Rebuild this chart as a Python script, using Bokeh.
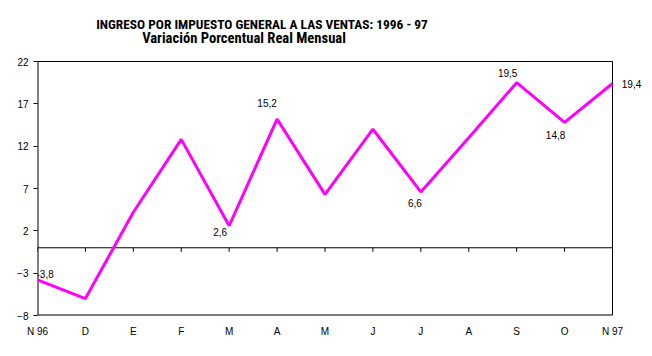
from bokeh.plotting import figure
from bokeh.models import Range1d, FixedTicker, ColumnDataSource
from bokeh.core.properties import value
from bokeh.embed import file_html
from bokeh.resources import INLINE

# ---- data ----
categories = ["N 96", "D", "E", "F", "M", "A", "M", "J", "J", "A", "S", "O", "N 97"]
values = [-3.8, -6.0, 4.2, 12.8, 2.6, 15.2, 6.3, 14.0, 6.6, 13.0, 19.5, 14.8, 19.4]
y_ticks = [-8, -3, 2, 7, 12, 17, 22]
labeled_idx = [0, 4, 5, 8, 10, 11, 12]
title_line1 = "INGRESO POR IMPUESTO GENERAL A LAS VENTAS: 1996 - 97"
title_line2 = "Variación Porcentual Real Mensual"

xs = list(range(len(categories)))
x_lo, x_hi = xs[0], xs[-1]
y_lo, y_hi = y_ticks[0], y_ticks[-1]

# frame geometry (pixels): plot box 37..612 x 61..315 on a 652x356 canvas
box_l, box_r, box_t, box_b = 37, 612, 61, 315
W, H = 652, 356
px_x = (box_r - box_l) / (x_hi - x_lo)
px_y = (box_b - box_t) / (y_hi - y_lo)
x_end = x_hi + (W - box_r) / px_x
y_end = y_hi + box_t / px_y

p = figure(width=W, height=H, output_backend="svg", toolbar_location=None, title=None,
           x_range=Range1d(x_lo, x_end), y_range=Range1d(y_lo, y_end),
           min_border_left=box_l, min_border_right=0, min_border_top=0,
           min_border_bottom=H - box_b)
p.background_fill_color = "white"
p.border_fill_color = "white"
p.outline_line_color = None
p.xgrid.visible = False
p.ygrid.visible = False

font = "Liberation Sans"

# y axis (ticks + labels only; border drawn separately)
p.yaxis.ticker = FixedTicker(ticks=y_ticks)
p.yaxis.major_tick_out = 4
p.yaxis.major_tick_in = 0
p.yaxis.minor_tick_out = 0
p.yaxis.minor_tick_in = 0
p.yaxis.major_label_standoff = 5
p.yaxis.axis_line_color = None
p.yaxis.major_tick_line_color = "black"
p.yaxis.major_label_text_font = font
p.yaxis.major_label_text_font_size = "10px"
p.yaxis.major_label_text_color = "black"

# x axis (labels only at bottom)
p.xaxis.ticker = FixedTicker(ticks=xs)
p.xaxis.major_label_overrides = {i: c for i, c in zip(xs, categories)}
p.xaxis.major_tick_out = 0
p.xaxis.major_tick_in = 0
p.xaxis.minor_tick_out = 0
p.xaxis.minor_tick_in = 0
p.xaxis.axis_line_color = None
p.xaxis.major_label_standoff = 10
p.xaxis.major_label_text_font = font
p.xaxis.major_label_text_font_size = "10px"
p.xaxis.major_label_text_color = "black"

# plot box border
p.segment(x0=[x_lo], y0=[y_hi], x1=[x_hi], y1=[y_hi], line_color="black", line_width=1)
p.segment(x0=[x_lo], y0=[y_lo], x1=[x_lo], y1=[y_hi], line_color="black", line_width=2)
p.segment(x0=[x_hi], y0=[y_lo], x1=[x_hi], y1=[y_hi], line_color="black", line_width=1)
p.segment(x0=[x_lo], y0=[y_lo], x1=[x_hi], y1=[y_lo], line_color="black", line_width=2)

# zero line with downward category ticks
p.segment(x0=[x_lo], y0=[0], x1=[x_hi], y1=[0], line_color="black", line_width=1)
p.segment(x0=xs, y0=[0] * len(xs), x1=xs, y1=[-4 / px_y] * len(xs),
          line_color="black", line_width=1)

# series line
src = ColumnDataSource(dict(x=xs, y=values))
p.line("x", "y", source=src, line_color="#FF00FF", line_width=3)

# data labels (screen offsets, positive = down)
dx = {0: -1, 4: -9, 5: -10, 8: -6, 10: -9, 11: -9, 12: 19}
dy = {0: -6, 4: 6, 5: -16, 8: 11, 10: -10, 11: 13, 12: 0}
align = {0: "left"}
lab = ColumnDataSource(dict(
    x=[xs[i] for i in labeled_idx],
    y=[values[i] for i in labeled_idx],
    t=[f"{values[i]:.1f}".replace(".", ",") for i in labeled_idx],
    xo=[dx[i] for i in labeled_idx],
    yo=[dy[i] for i in labeled_idx],
    al=[align.get(i, "center") for i in labeled_idx],
))
p.text(x="x", y="y", text="t", source=lab, x_offset="xo", y_offset="yo",
       text_align="al", text_baseline="middle", text_font=value(font),
       text_font_size="10px", text_color="black")

# titles
tfont = "Roboto Condensed"
mid = (x_lo + x_hi) / 2
p.text(x=[mid], y=[y_hi], text=[title_line1], x_offset=[-63], y_offset=[-37],
       text_align="center", text_baseline="middle", text_font=value(tfont),
       text_font_style="bold", text_font_size="13.4px", text_color="black")
p.text(x=[mid], y=[y_hi], text=[title_line2], x_offset=[-81], y_offset=[-24],
       text_align="center", text_baseline="middle", text_font=value(tfont),
       text_font_style="bold", text_font_size="14.6px", text_color="black")

open("out.html", "w").write(file_html(p, INLINE))
